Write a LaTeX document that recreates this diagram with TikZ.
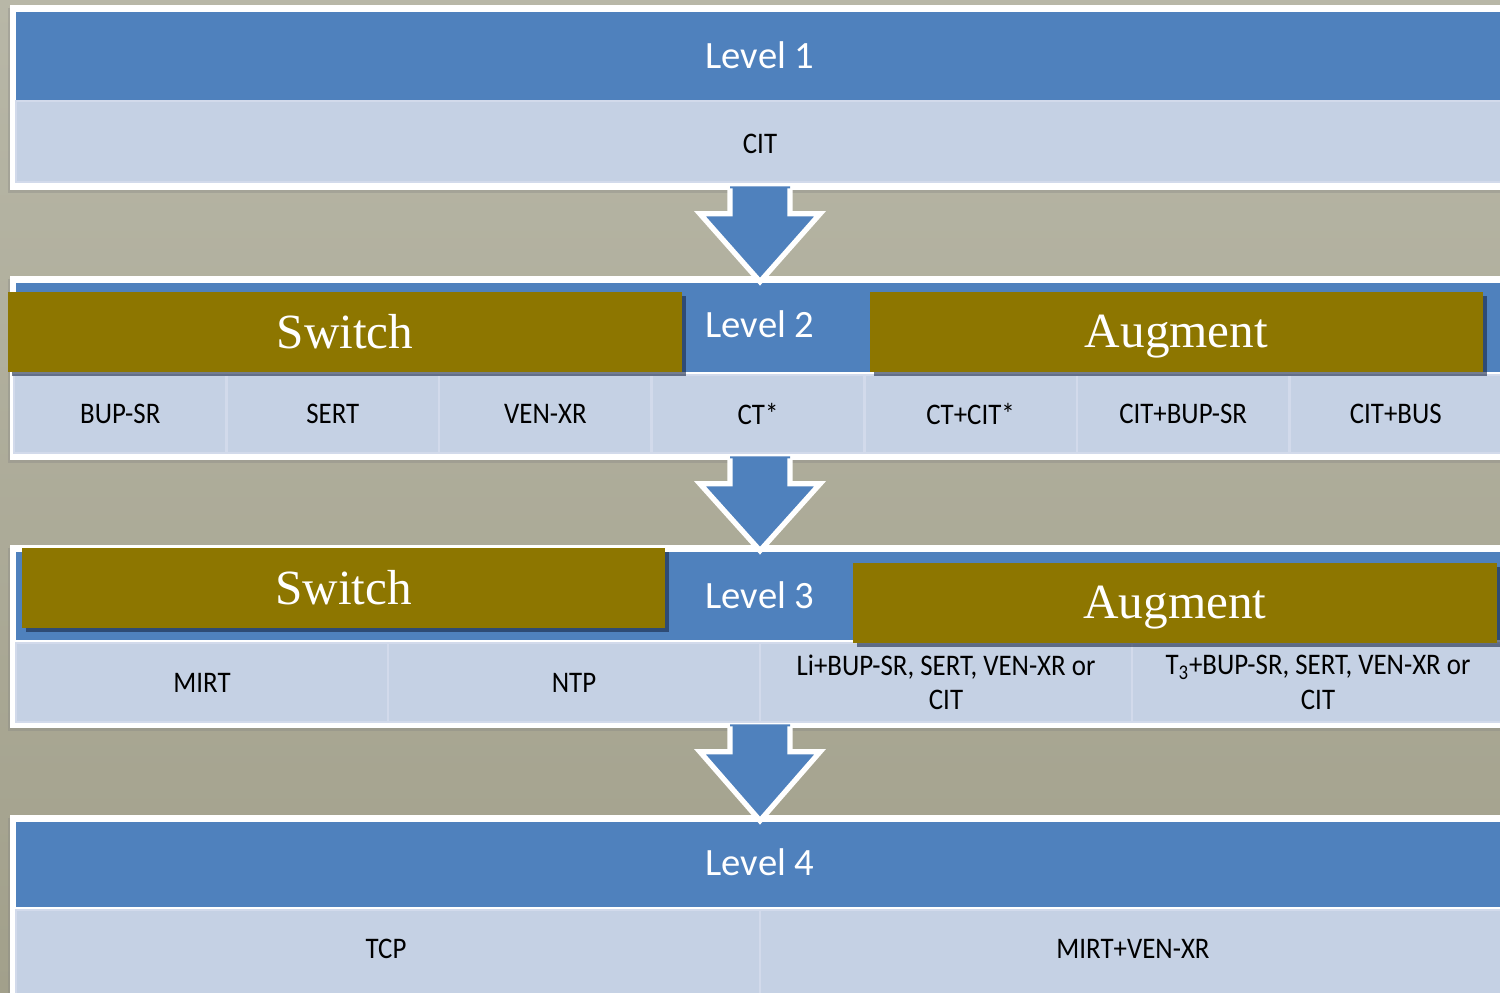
\documentclass[tikz,border=0pt]{standalone}
\usepackage{fontspec}
\setmainfont{Carlito}
\newfontfamily\cellfont[FakeStretch=0.9]{Carlito}
\newfontfamily\tagfont{Liberation Serif}
\usetikzlibrary{fit,calc,shadows}

\definecolor{bgtop}{RGB}{184,183,167}
\definecolor{bgbot}{RGB}{162,160,139}
\definecolor{hdrblue}{RGB}{79,129,189}
\definecolor{cellblue}{RGB}{197,209,228}
\definecolor{celledge}{RGB}{210,218,235}
\definecolor{olive}{RGB}{141,118,0}
\definecolor{shadowblue}{RGB}{25,40,70}

\tikzset{
  frame/.style={fill=white, draw=none, inner sep=0pt,
    drop shadow={shadow xshift=-1pt, shadow yshift=-1.5pt, opacity=0.3}},
  header/.style={fill=hdrblue, draw=none, inner sep=0pt},
  cell/.style={fill=cellblue, draw=celledge, line width=1.4pt, inner sep=0pt},
  tag/.style={fill=olive, draw=none, inner sep=0pt,
    drop shadow={shadow xshift=2pt, shadow yshift=-2pt, opacity=0.6, fill=shadowblue}},
  headertext/.style={anchor=center, inner sep=0pt, text=white,
    font=\fontsize{22}{26}\selectfont},
  celltext/.style={anchor=center, inner sep=0pt, text=black, align=center,
    font=\cellfont\fontsize{17}{19.5}\selectfont},
  tagtext/.style={anchor=center, inner sep=0pt, text=white,
    font=\tagfont\fontsize{28}{32}\selectfont},
  arrowbody/.style={fill=hdrblue},
  arrowrim/.style={draw=white, line width=3pt, line join=miter},
}

% block arrow from the bottom of one level panel to the top of the next
\newcommand\levelarrow[2]{%
  \fill[arrowbody] ($(#1.south)+(-30,-4)$) -- ($(#1.south)+(-30,23.5)$)
    -- ($(#1.south)+(-60,23.5)$) -- ($(#2.north)+(0,6)$)
    -- ($(#1.south)+(60,23.5)$) -- ($(#1.south)+(30,23.5)$)
    -- ($(#1.south)+(30,-4)$) -- cycle;
  \draw[arrowrim] ($(#1.south)+(-30,-2)$) -- ($(#1.south)+(-30,23.5)$)
    -- ($(#1.south)+(-60,23.5)$) -- ($(#2.north)+(0,6)$)
    -- ($(#1.south)+(60,23.5)$) -- ($(#1.south)+(30,23.5)$)
    -- ($(#1.south)+(30,-2)$);
}

\begin{document}
\begin{tikzpicture}[x=0.02cm, y=-0.02cm]
\useasboundingbox (0,0) rectangle (1500,993);
\clip (0,0) rectangle (1500,993);
\shade[top color=bgtop, bottom color=bgbot] (0,0) rectangle (1500,993);

% ---------- Level 1 ----------
\node[frame, fit={(10,5) (1510,190)}] (f1) {};
\node[header, fit={(16,12) (1504,100)}] (h1) {};
\node[headertext] (h1t) at ($(h1.center)+(0,-1)$) {Level 1};
\node[cell, fit={(16,101) (1504,182)}] (c11) {};
\node[celltext] (c11t) at ($(c11.center)+(0,2)$) {CIT};

% ---------- Level 2 ----------
\node[frame, fit={(10,276) (1510,460)}] (f2) {};
\node[header, fit={(16,283) (1504,372)}] (h2) {};
\node[headertext] (h2t) at ($(h2.center)+(0,-3)$) {Level 2};
\foreach \t [count=\i from 0] in {BUP-SR, SERT, VEN-XR, CT*, CT+CIT*, CIT+BUP-SR, CIT+BUS}{
  \pgfmathsetmacro\xa{14+212.57*\i}
  \pgfmathsetmacro\xb{14+212.57*(\i+1)}
  \node[cell, fit={(\xa,375) (\xb,453)}] (c2\i) {};
  \node[celltext] (c2\i t) at (c2\i.center) {\t};
}
\node[tag, fit={(8,292) (682,372)}] (s2) {};
\node[tagtext] (s2t) at (s2.center) {Switch};
\node[tag, fit={(870,292) (1483,372)}] (a2) {};
\node[tagtext] (a2t) at ($(a2.center)+(0,5)$) {Augment};

% ---------- Level 3 ----------
\node[frame, fit={(10,545) (1510,728)}] (f3) {};
\node[header, fit={(16,552) (1504,640)}] (h3) {};
\node[headertext] (h3t) at ($(h3.center)+(0,-1)$) {Level 3};
\node[cell, fit={(16,643) (388,722)}] (c30) {};
\node[cell, fit={(388,643) (760,722)}] (c31) {};
\node[cell, fit={(760,643) (1132,722)}] (c32) {};
\node[cell, fit={(1132,643) (1504,722)}] (c33) {};
\node[celltext] (c30t) at (c30.center) {MIRT};
\node[celltext] (c31t) at (c31.center) {NTP};
\node[celltext] (c32t) at (c32.center) {Li+BUP-SR, SERT, VEN-XR or\\CIT};
\node[celltext] (c33t) at (c33.center) {T\textsubscript{3}+BUP-SR, SERT, VEN-XR or\\CIT};
\node[tag, fit={(22,548) (665,628)}] (s3) {};
\node[tagtext] (s3t) at (s3.center) {Switch};
\node[tag, fit={(853,563) (1497,643)}] (a3) {};
\node[tagtext] (a3t) at ($(a3.center)+(0,5)$) {Augment};

% ---------- Level 4 ----------
\node[frame, fit={(10,815) (1510,1005)}] (f4) {};
\node[header, fit={(16,822) (1504,907)}] (h4) {};
\node[headertext] (h4t) at ($(h4.center)+(0,-2)$) {Level 4};
\node[cell, fit={(16,910) (760,1000)}] (c40) {};
\node[cell, fit={(760,910) (1504,1000)}] (c41) {};
\node[celltext] (c40t) at (386,949) {TCP};
\node[celltext] (c41t) at (1133,949) {MIRT+VEN-XR};

% ---------- arrows between levels ----------
\levelarrow{f1}{f2}
\levelarrow{f2}{f3}
\levelarrow{f3}{f4}
\end{tikzpicture}
\end{document}
